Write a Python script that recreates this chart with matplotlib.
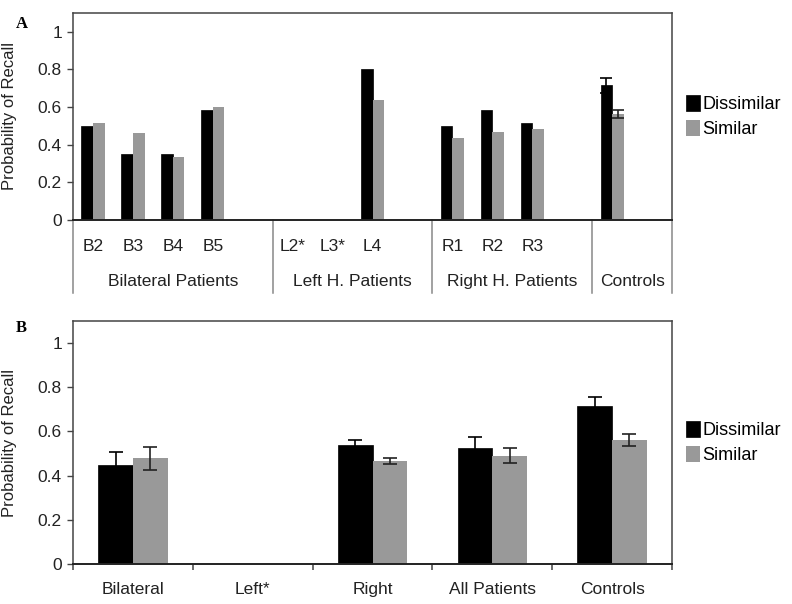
import numpy as np
import matplotlib.pyplot as plt
from matplotlib.transforms import blended_transform_factory

plt.rcParams['font.family'] = ['Liberation Sans', 'DejaVu Sans']

# Panel A: individual patients (empty slots are gaps between groups)
a_labels = ['B2', 'B3', 'B4', 'B5', '', 'L2*', 'L3*', 'L4', '', 'R1', 'R2', 'R3', '', '', '']
a_dissim = [0.50, 0.35, 0.35, 0.586, 0, 0, 0, 0.80, 0, 0.50, 0.586, 0.515, 0, 0.717, 0]
a_sim = [0.516, 0.46, 0.336, 0.60, 0, 0, 0, 0.636, 0, 0.433, 0.467, 0.481, 0, 0.563, 0]
a_dissim_err = [0, 0, 0, 0, 0, 0, 0, 0, 0, 0, 0, 0, 0, 0.04, 0]
a_sim_err = [0, 0, 0, 0, 0, 0, 0, 0, 0, 0, 0, 0, 0, 0.023, 0]
a_groups = ['Bilateral Patients', 'Left H. Patients', 'Right H. Patients', 'Controls']
a_group_edges = [-0.5, 4.5, 8.5, 12.5, 14.5]
a_controls_slot = 13

# Panel B: group means
b_labels = ['Bilateral', 'Left*', 'Right', 'All Patients', 'Controls']
b_dissim = [0.449, 0, 0.537, 0.525, 0.716]
b_sim = [0.478, 0, 0.466, 0.49, 0.561]
b_dissim_err = [0.056, 0, 0.025, 0.048, 0.04]
b_sim_err = [0.053, 0, 0.015, 0.034, 0.027]

black = '#000000'
grey = '#999999'
txt = '#222222'
w = 0.29

fig = plt.figure(figsize=(7.92, 6.04), dpi=100)
axA = fig.add_axes([0.0922, 0.6358, 0.7563, 0.3427])
axB = fig.add_axes([0.0922, 0.0662, 0.7563, 0.4023])


def style(ax):
    ax.set_ylim(0, 1.1)
    ax.set_yticks([0, 0.2, 0.4, 0.6, 0.8, 1.0])
    ax.set_yticklabels(['0', '0.2', '0.4', '0.6', '0.8', '1'])
    ax.tick_params(axis='y', length=4, width=1.0, color='#444444', pad=4,
                   labelsize=12.5, labelcolor=txt)
    for s in ax.spines.values():
        s.set_color('#444444')
        s.set_linewidth(1.1)
    ax.spines['bottom'].set_color('#222222')
    ax.spines['bottom'].set_linewidth(1.4)
    ax.set_ylabel('Probability of Recall', fontsize=12, color=txt)
    ax.yaxis.set_label_coords(-0.093, 0.5)
    ax.legend(loc='center left', bbox_to_anchor=(1.012, 0.5), frameon=False, fontsize=13,
              handlelength=0.75, handleheight=1.0, handletextpad=0.15, labelspacing=0.4,
              borderaxespad=0)


# ---- Panel A ----
xa = np.arange(len(a_labels))
axA.bar(xa - w / 2, a_dissim, w, color=black, edgecolor=black, lw=0.5, label='Dissimilar')
axA.bar(xa + w / 2, a_sim, w, color=grey, lw=0, label='Similar')
c = a_controls_slot
axA.errorbar(c - w / 2, a_dissim[c], yerr=a_dissim_err[c], fmt='none', ecolor=black, elinewidth=1.2, capsize=4, capthick=1.2)
axA.errorbar(c + w / 2, a_sim[c], yerr=a_sim_err[c], fmt='none', ecolor='#222222', elinewidth=1.2, capsize=4, capthick=1.2)
axA.set_xlim(-0.5, 14.5)
axA.set_xticks([])
style(axA)

tA = blended_transform_factory(axA.transData, axA.transAxes)
for e in a_group_edges:
    axA.plot([e, e], [0, -0.353], transform=tA, color='#888888', lw=1.1, clip_on=False)
for i, lab in enumerate(a_labels):
    if lab:
        axA.text(i, -0.126, lab, transform=tA, ha='center', va='center', fontsize=12.5, color=txt)
for g, lab in enumerate(a_groups):
    mid = (a_group_edges[g] + a_group_edges[g + 1]) / 2
    axA.text(mid, -0.295, lab, transform=tA, ha='center', va='center', fontsize=12.5, color=txt)

# ---- Panel B ----
xb = np.arange(len(b_labels))
axB.bar(xb - w / 2, b_dissim, w, color=black, edgecolor=black, lw=0.5, label='Dissimilar')
axB.bar(xb + w / 2, b_sim, w, color=grey, lw=0, label='Similar')
for i in range(len(b_labels)):
    if b_dissim_err[i] > 0:
        axB.errorbar(i - w / 2, b_dissim[i], yerr=b_dissim_err[i], fmt='none', ecolor=black,
                     elinewidth=1.2, capsize=5, capthick=1.2)
        axB.errorbar(i + w / 2, b_sim[i], yerr=b_sim_err[i], fmt='none', ecolor='#222222',
                     elinewidth=1.2, capsize=5, capthick=1.2)
axB.set_xlim(-0.5, len(b_labels) - 0.5)
axB.set_xticks(xb)
axB.set_xticklabels(b_labels)
axB.set_xticks(np.arange(len(b_labels) + 1) - 0.5, minor=True)
axB.tick_params(axis='x', which='major', length=0, pad=13, labelsize=12.5, labelcolor=txt)
axB.tick_params(axis='x', which='minor', length=4, width=1.1, color='#444444', direction='out')
style(axB)

fig.text(0.02, 0.953, 'A', fontsize=12, fontweight='bold', family='Liberation Serif')
fig.text(0.02, 0.450, 'B', fontsize=12, fontweight='bold', family='Liberation Serif')

fig.savefig('out.png', dpi=100)
